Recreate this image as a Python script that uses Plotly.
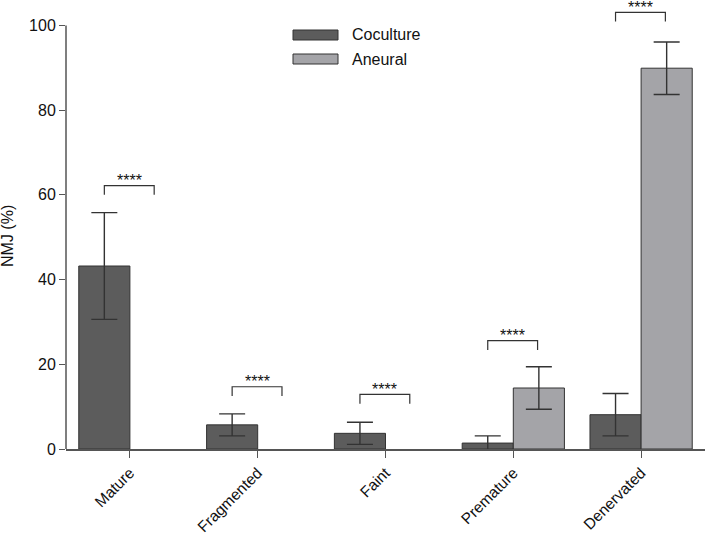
import plotly.graph_objects as go

categories = ["Mature", "Fragmented", "Faint", "Premature", "Denervated"]
coculture = [43.2, 5.7, 3.7, 1.4, 8.1]
coculture_err = [12.6, 2.6, 2.6, 1.7, 5.0]
aneural = [None, None, None, 14.4, 89.9]
aneural_err = [None, None, None, 5.0, 6.2]
sig_heights = [62.2, 14.7, 12.9, 25.6, 103.1]
sig_labels = ["****", "****", "****", "****", "****"]
y_ticks = [0, 20, 40, 60, 80, 100]

W, H = 705, 535
ML, MR, MT, MB = 66, 0, 0, 86
FONT = "Arial, Liberation Sans, Helvetica, sans-serif"
DARK = "#5c5c5c"
LIGHT = "#a4a4a8"
EDGE = "#333333"


def px_x(px):
    return (px - ML) / (W - ML - MR)


def px_y(py):
    return (H - MB - py) / (H - MT - MB)


fig = go.Figure()
fig.add_trace(go.Bar(
    x=categories, y=coculture, name="Coculture",
    marker=dict(color=DARK, line=dict(color=EDGE, width=1)),
    error_y=dict(type="data", array=coculture_err, visible=True,
                 color=EDGE, thickness=1.4, width=13),
))
fig.add_trace(go.Bar(
    x=categories, y=aneural, name="Aneural",
    marker=dict(color=LIGHT, line=dict(color=EDGE, width=1)),
    error_y=dict(type="data", array=aneural_err, visible=True,
                 color=EDGE, thickness=1.4, width=13),
))

shapes = []
annotations = []
drop = 2.2
for i, (h, lab) in enumerate(zip(sig_heights, sig_labels)):
    x0, x1 = i - 0.2, i + 0.19
    shapes.append(dict(
        type="path", xref="x", yref="y",
        path=f"M {x0} {h - drop} L {x0} {h} L {x1} {h} L {x1} {h - drop}",
        line=dict(color=EDGE, width=1.2),
    ))
    annotations.append(dict(
        x=(x0 + x1) / 2, y=h, xref="x", yref="y", text=lab,
        showarrow=False, yanchor="middle", yshift=5,
        font=dict(family=FONT, size=16, color="#111"),
    ))

# y axis line from 0 to 100 only
shapes.append(dict(type="line", xref="paper", yref="y", x0=0, x1=0,
                   y0=0, y1=100, line=dict(color="#555", width=1.5)))

# manual legend with wide swatches
legend_items = [("Coculture", DARK, 35), ("Aneural", LIGHT, 59)]
for name, col, cy in legend_items:
    shapes.append(dict(type="rect", xref="paper", yref="paper",
                       x0=px_x(293), x1=px_x(338), y0=px_y(cy + 5), y1=px_y(cy - 5),
                       fillcolor=col, line=dict(color=EDGE, width=1)))
    annotations.append(dict(x=px_x(350), y=px_y(cy), xref="paper", yref="paper",
                            text=name, showarrow=False, xanchor="left", yanchor="middle",
                            font=dict(family=FONT, size=16, color="#111")))

# y axis title
annotations.append(dict(x=px_x(7), y=px_y(236), xref="paper", yref="paper",
                        text="NMJ (%)", showarrow=False, textangle=-90,
                        xanchor="center", yanchor="middle",
                        font=dict(family=FONT, size=16, color="#111")))

fig.update_layout(
    width=W, height=H,
    margin=dict(l=ML, r=MR, t=MT, b=MB, autoexpand=False),
    paper_bgcolor="white", plot_bgcolor="white",
    barmode="group", bargap=0.2, bargroupgap=0,
    showlegend=False,
    shapes=shapes, annotations=annotations,
    font=dict(family=FONT, size=16, color="#111"),
    xaxis=dict(
        range=[-0.5, 4.5], showline=True, linecolor="#555", linewidth=1.5,
        ticks="outside", ticklen=7, tickcolor="#555", tickwidth=1.2,
        tickangle=-45, showgrid=False, zeroline=False, automargin=False,
        tickfont=dict(family=FONT, size=15.5, color="#111"),
    ),
    yaxis=dict(
        range=[0, 106], tickvals=y_ticks, showline=False,
        ticks="outside", ticklen=6, tickcolor="#555", tickwidth=1.2,
        showgrid=False, zeroline=False, automargin=False,
        tickfont=dict(family=FONT, size=16, color="#111"),
    ),
)

fig.write_html("out.html",
               config={"displayModeBar": False},
               post_script="document.body.style.margin='0px';document.body.style.overflow='hidden';")
